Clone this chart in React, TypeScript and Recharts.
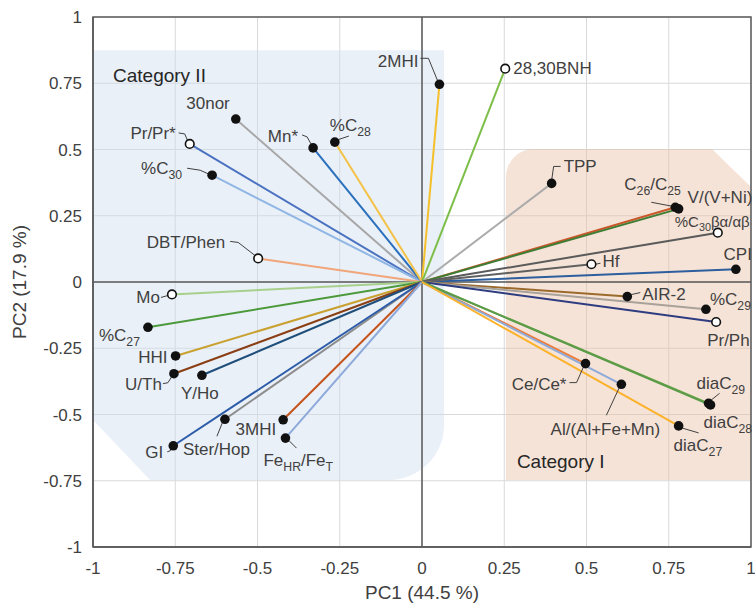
import React from "react";
import {
  ScatterChart,
  Scatter,
  XAxis,
  YAxis,
  CartesianGrid,
  ReferenceArea,
  ReferenceLine,
  Label,
} from "recharts";

// loadings of each variable on PC1 / PC2
const variables = [
  "2MHI", "28,30BNH", "30nor", "Pr/Pr*", "%C_{30}", "Mn*", "%C_{28}", "DBT/Phen",
  "TPP", "C_{26}/C_{25}", "V/(V+Ni)", "%C_{30}βα/αβ", "CPI", "Hf",
  "Mo", "%C_{27}", "HHI", "U/Th", "Y/Ho", "Ster/Hop", "GI", "3MHI", "Fe_{HR}/Fe_{T}",
  "AIR-2", "%C_{29}", "Pr/Ph", "Ce/Ce*", "Al/(Al+Fe+Mn)", "diaC_{29}", "diaC_{28}", "diaC_{27}",
];
const pc1 = [
  0.053, 0.253, -0.566, -0.706, -0.638, -0.331, -0.265, -0.498,
  0.394, 0.77, 0.78, 0.899, 0.954, 0.515,
  -0.76, -0.833, -0.749, -0.754, -0.669, -0.599, -0.756, -0.422, -0.415,
  0.624, 0.863, 0.894, 0.497, 0.606, 0.871, 0.877, 0.78,
];
const pc2 = [
  0.746, 0.805, 0.615, 0.521, 0.403, 0.506, 0.528, 0.089,
  0.372, 0.282, 0.276, 0.186, 0.048, 0.067,
  -0.047, -0.171, -0.279, -0.346, -0.352, -0.518, -0.618, -0.52, -0.589,
  -0.055, -0.103, -0.151, -0.308, -0.386, -0.458, -0.464, -0.543,
];
const openMarkers = ["28,30BNH", "Pr/Pr*", "DBT/Phen", "%C_{30}βα/αβ", "Hf", "Mo", "Pr/Ph"];
const axisTicks = [-1, -0.75, -0.5, -0.25, 0, 0.25, 0.5, 0.75, 1];

// extents of the two shaded groups (PC1 / PC2 units)
const category2 = { x1: -1, x2: 0.067, y1: -0.747, y2: 0.875 };
const category1 = { x1: 0.255, x2: 1, y1: -0.747, y2: 0.502 };

const lineColors = [
  "#F4BF2A", "#7DBE48", "#A6A6A6", "#4A72C0", "#90B6E4", "#2B70BC", "#F3C246", "#F0A67A",
  "#ABABAB", "#C9572A", "#3E7D34", "#5A5A5A", "#2D5E9E", "#606060",
  "#A8D08D", "#4C9A3C", "#C9A130", "#8A3E14", "#1F4E7A", "#8C8C8C", "#2C5BA8", "#C5531B", "#8EAADB",
  "#9B6A2C", "#A8A29A", "#2E3C80", "#EE7B35", "#8DAAD8", "#6DAA45", "#5B9B4A", "#FBB22A",
];

const FONT = '"Liberation Sans", Arial, sans-serif';
const TEXT = "#404040";
const FRAME = "#595959";

// label placement relative to the marker, in px
type Layout = {
  dx: number;
  dy: number;
  anchor: "start" | "middle" | "end";
  leader?: number[][];
  size?: number;
};
const labelLayout: Record<string, Layout> = {
  "2MHI": { dx: -21, dy: -23, anchor: "end", leader: [[-19, -26], [-11, -26], [-2, -4]] },
  "28,30BNH": { dx: 8, dy: -1, anchor: "start" },
  "30nor": { dx: -6, dy: -16, anchor: "end" },
  "Pr/Pr*": { dx: -14, dy: -11, anchor: "end", leader: [[-11, -11], [-5, -10], [-2, -3]] },
  "%C_{30}": { dx: -30, dy: -7, anchor: "end", leader: [[-25, -7], [-12, -5], [-3, -1]] },
  "Mn*": { dx: -15, dy: -12, anchor: "end", leader: [[-11, -13], [-6, -11], [-1, -2]] },
  "%C_{28}": { dx: -5, dy: -17, anchor: "start", leader: [[14, -6], [2, -2]] },
  "DBT/Phen": { dx: -33, dy: -16, anchor: "end", leader: [[-28, -17], [-20, -16], [-2, -2]] },
  TPP: { dx: 12, dy: -17, anchor: "start", leader: [[9, -17], [2, -17], [0, -3]] },
  "C_{26}/C_{25}": { dx: -51, dy: -23, anchor: "start", leader: [[-24, -5], [-3, -1]] },
  "V/(V+Ni)": { dx: 9, dy: -12, anchor: "start" },
  "%C_{30}βα/αβ": { dx: -43, dy: -11, anchor: "start", size: 15 },
  CPI: { dx: 16, dy: -15, anchor: "end" },
  Hf: { dx: 11, dy: -3, anchor: "start", leader: [[4, 0], [9, -1]] },
  Mo: { dx: -12, dy: 3, anchor: "end", leader: [[-11, 3], [-4, 1]] },
  "%C_{27}": { dx: -8, dy: 8, anchor: "end" },
  HHI: { dx: -8, dy: 1, anchor: "end" },
  "U/Th": { dx: -12, dy: 10, anchor: "end", leader: [[-11, 10], [-6, 9], [-1, 1]] },
  "Y/Ho": { dx: -2, dy: 18, anchor: "middle" },
  "Ster/Hop": { dx: -42, dy: 30, anchor: "start", leader: [[-8, 17], [-2, 2]] },
  GI: { dx: -10, dy: 6, anchor: "end", leader: [[-6, 6], [-3, 5], [-1, 1]] },
  "3MHI": { dx: -7, dy: 9, anchor: "end" },
  "Fe_{HR}/Fe_{T}": { dx: -22, dy: 22, anchor: "start", leader: [[11, 10], [3, 2]] },
  "AIR-2": { dx: 15, dy: -3, anchor: "start", leader: [[13, -4], [4, -2]] },
  "%C_{29}": { dx: 4, dy: -10, anchor: "start" },
  "Pr/Ph": { dx: -9, dy: 18, anchor: "start" },
  "Ce/Ce*": { dx: -19, dy: 20, anchor: "end", leader: [[-16, 19], [-9, 19], [-1, 1]] },
  "Al/(Al+Fe+Mn)": { dx: -16, dy: 45, anchor: "middle", leader: [[-15, 31], [-1, 1]] },
  "diaC_{29}": { dx: -12, dy: -20, anchor: "start", leader: [[11, -10], [1, -2]] },
  "diaC_{28}": { dx: -7, dy: 17, anchor: "start" },
  "diaC_{27}": { dx: -5, dy: 19, anchor: "start", leader: [[20, 7], [3, 2]] },
};

const points = variables.map((name, i) => ({
  name,
  x: pc1[i],
  y: pc2[i],
  open: openMarkers.includes(name),
}));

// "%C_{28}" -> %C with subscript 28
function RichText({ x, y, anchor, text, size }: any) {
  const parts = text.split(/(_\{[^}]*\})/).filter(Boolean);
  const shift = size * 0.3;
  let down = false;
  return (
    <text x={x} y={y + size * 0.35} textAnchor={anchor} fontSize={size} fill={TEXT} fontFamily={FONT}>
      {parts.map((part: string, i: number) => {
        if (part.startsWith("_{")) {
          const el = (
            <tspan key={i} dy={down ? 0 : shift} fontSize={size * 0.72}>
              {part.slice(2, -1)}
            </tspan>
          );
          down = true;
          return el;
        }
        const el = (
          <tspan key={i} dy={down ? -shift : 0}>
            {part}
          </tspan>
        );
        down = false;
        return el;
      })}
    </text>
  );
}

function Category2Shape(props: any) {
  const { x, y, width, height } = props;
  const r = 55;
  const d = `M${x},${y} H${x + width} V${y + height - r} A${r},${r} 0 0 1 ${x + width - r},${y + height} H${x + 57} L${x},${y + height - 60} Z`;
  return (
    <g>
      <path d={d} fill="#D0DDF0" fillOpacity={0.45} />
      <text x={x + 20} y={y + 25 + 19 * 0.35} fontSize={19} fill="#262626" fontFamily={FONT}>
        Category II
      </text>
    </g>
  );
}

function Category1Shape(props: any) {
  const { x, y, width, height } = props;
  const r = 28;
  const d = `M${x},${y + height} V${y + r} A${r},${r} 0 0 1 ${x + r},${y} H${x + width - 39} L${x + width},${y + 38} V${y + height} Z`;
  return (
    <g>
      <path d={d} fill="#EBC0A6" fillOpacity={0.45} />
      <text x={x + 11} y={y + height - 19 + 19 * 0.35} fontSize={19} fill="#262626" fontFamily={FONT}>
        Category I
      </text>
    </g>
  );
}

function PointMark(props: any) {
  const { cx, cy, payload } = props;
  const lay = labelLayout[payload.name];
  return (
    <g>
      {lay.leader && (
        <polyline
          points={lay.leader.map(([a, b]) => `${cx + a},${cy + b}`).join(" ")}
          fill="none"
          stroke={TEXT}
          strokeWidth={1}
        />
      )}
      {payload.open ? (
        <circle cx={cx} cy={cy} r={4.3} fill="#fff" stroke="#111" strokeWidth={1.6} />
      ) : (
        <circle cx={cx} cy={cy} r={4.8} fill="#111" />
      )}
      <RichText
        x={cx + lay.dx}
        y={cy + lay.dy}
        anchor={lay.anchor}
        text={payload.name}
        size={lay.size ?? 17}
      />
    </g>
  );
}

export default function App() {
  const tickStyle = { fill: TEXT, fontSize: 17, fontFamily: FONT };
  return (
    <div style={{ position: "absolute", left: 0, top: 0, width: 755, height: 603, background: "#fff" }}>
      <ScatterChart width={755} height={603} margin={{ top: 17, right: 4, bottom: 0, left: 13 }}>
        <CartesianGrid stroke="#D9D9D9" strokeWidth={1} />
        <ReferenceArea {...category2} shape={<Category2Shape />} ifOverflow="visible" />
        <ReferenceArea {...category1} shape={<Category1Shape />} ifOverflow="visible" />
        <XAxis
          type="number"
          dataKey="x"
          domain={[-1, 1]}
          ticks={axisTicks}
          interval={0}
          tickLine={false}
          tickSize={0}
          tickMargin={15}
          axisLine={{ stroke: FRAME, strokeWidth: 1.5 }}
          tick={tickStyle}
          height={56}
        >
          <Label
            value="PC1 (44.5 %)"
            position="insideBottom"
            offset={4}
            fill={TEXT}
            fontSize={19}
            fontFamily={FONT}
          />
        </XAxis>
        <YAxis
          type="number"
          dataKey="y"
          domain={[-1, 1]}
          ticks={axisTicks}
          interval={0}
          tickLine={false}
          tickSize={0}
          tickMargin={11}
          axisLine={{ stroke: FRAME, strokeWidth: 1.5 }}
          tick={tickStyle}
          width={80}
        >
          <Label
            value="PC2 (17.9 %)"
            position="insideLeft"
            angle={-90}
            offset={6}
            fill={TEXT}
            fontSize={19}
            fontFamily={FONT}
            style={{ textAnchor: "middle" }}
          />
        </YAxis>
        <ReferenceLine x={0} stroke={FRAME} strokeWidth={1.5} />
        <ReferenceLine y={0} stroke={FRAME} strokeWidth={1.5} />
        <ReferenceArea x1={-1} x2={1} y1={-1} y2={1} fill="none" stroke={FRAME} strokeWidth={1.5} />
        {points.map((p, i) => (
          <Scatter
            key={p.name}
            data={[{ x: 0, y: 0 }, { x: p.x, y: p.y }]}
            fill={lineColors[i]}
            line={{ stroke: lineColors[i], strokeWidth: 2 }}
            shape={() => <g />}
            isAnimationActive={false}
          />
        ))}
        <Scatter data={points} shape={<PointMark />} isAnimationActive={false} />
      </ScatterChart>
    </div>
  );
}
